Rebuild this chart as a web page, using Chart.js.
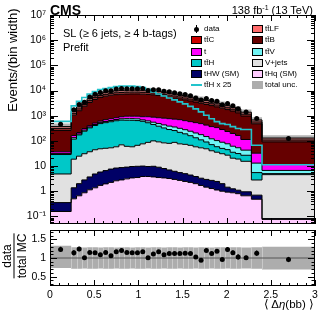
<!DOCTYPE html>
<html>
<head>
<meta charset="utf-8">
<script src="https://cdn.jsdelivr.net/npm/chart.js@4.4.1/dist/chart.umd.min.js"></script>
<style>
  body { margin: 0; background: #fff; }
  #wrap { position: relative; width: 332px; height: 325px; overflow: hidden;
          font-family: "Liberation Sans", Arial, Helvetica, sans-serif; color: #000; }
  canvas { position: absolute; left: 0; }
  .txt { position: absolute; white-space: nowrap; line-height: 1; }
  .lg { position: absolute; white-space: nowrap; line-height: 1; font-size: 8px; }
  .box { position: absolute; box-sizing: border-box; }
</style>
</head>
<body>
<div id="wrap">
  <canvas id="main" width="332" height="228" style="top:0"></canvas>
  <canvas id="ratio" width="332" height="99" style="top:226px"></canvas>

  <div class="txt" style="left:50px; top:3px; font-size:14px; font-weight:bold;">CMS</div>
  <div class="txt" style="right:19px; top:5px; font-size:11px;">138 fb<sup style="font-size:7px; line-height:0; vertical-align:4px;">-1</sup> (13 TeV)</div>
  <div class="txt" style="left:63px; top:28px; font-size:11px;">SL (≥ 6 jets, ≥ 4 b-tags)</div>
  <div class="txt" style="left:63px; top:42px; font-size:11px;">Prefit</div>
  <div class="txt" style="left:12px; top:60px; font-size:13px; transform:translate(-50%,-50%) rotate(-90deg);">Events/(bin width)</div>
  <div class="txt" style="left:14px; top:256px; font-size:12px; text-align:center; transform:translate(-50%,-50%) rotate(-90deg);">
    <div style="padding:0 0 1px 0; border-bottom:1px solid #000;">data</div>
    <div style="padding-top:1px;">total MC</div>
  </div>
  <div class="txt" style="right:18px; top:299px; font-size:11.5px;">⟨ Δ<i>η</i>(bb) ⟩</div>
  <div id="legend"></div>
</div>

<script>
// bin edges of <Δη(bb)>
const binEdges = [0, 0.24, 0.30, 0.36, 0.42, 0.48, 0.54, 0.60, 0.66, 0.72, 0.78, 0.84, 0.90,
  0.96, 1.02, 1.08, 1.14, 1.20, 1.26, 1.32, 1.38, 1.44, 1.50, 1.56, 1.62, 1.68, 1.74, 1.80,
  1.86, 1.92, 1.98, 2.04, 2.10, 2.16, 2.28, 2.40, 3.00];

// processes, events per bin width (stacked bottom -> top)
const tHq = [0.157, 0.50, 0.66, 0.87, 1.14, 1.37, 1.71, 1.96, 2.25, 2.6, 2.82, 3.1, 3.38, 3.5,
  3.85, 3.85, 3.7, 3.5, 3.38, 3.2, 2.95, 2.7, 2.45, 2.25, 2.0, 1.7, 1.45, 1.28, 1.12, 1.0,
  0.92, 0.87, 0.8, 0.66, 0.48, 0.076];
const tHW = [0.197, 0.87, 1.34, 1.95, 2.56, 3.48, 4.09, 4.64, 5.35, 5.75, 5.88, 6.0, 6.22, 6.3,
  6.15, 5.75, 6.1, 5.5, 4.62, 3.8, 3.25, 2.8, 2.55, 2.15, 1.85, 1.6, 1.5, 1.42, 1.33, 1.0,
  0.53, 0.38, 0.3, 0.29, 0.22, 0.006];
const vJets = [4.5, 17.4, 22.7, 28.1, 33.3, 39.6, 42.8, 44.2, 45.5, 49.9, 61, 51.7, 48.6, 56.9,
  66.3, 77.7, 90.2, 82.4, 75.5, 72.8, 81.1, 70.8, 67.9, 62.3, 54.3, 49.7, 45.6, 37.8, 33, 28.9,
  25.6, 19.3, 17.9, 14.5, 2.1, 4.48];
const ttH = [23.9, 98.6, 148, 212, 292, 365, 438, 479, 524, 574, 600, 600, 600, 574, 524, 438,
  349, 292, 243, 203, 170, 142, 118, 94, 75, 57, 42, 30.5, 23.3, 19.4, 17.8, 14.8, 12.4, 11.4,
  2.7, 0.45];
const ttV = [3, 17, 16, 25, 29, 37, 45, 60, 68, 74, 87, 106, 106, 112, 82, 97, 103, 104, 106,
  103, 99, 97, 88, 81, 73, 67, 58, 50, 44, 38, 32, 26, 22, 16, 7.6, 1.7];
const singleTop = [5.2, 30, 26, 41, 47, 62, 76, 107, 118, 128, 157, 188, 191, 202, 232, 292, 321,
  347, 365, 377, 373, 382, 358, 340, 325, 309, 275, 249, 235, 194, 159, 136, 111, 71, 19.3, 4.8];
const ttB = [223, 886, 1360, 2071, 2955, 3902, 4712, 5253, 5747, 6026, 6156, 6255, 6325, 6325,
  6226, 6086, 5847, 5536, 5152, 4767, 4381, 3993, 3633, 3268, 2934, 2629, 2376, 2150, 1902,
  1713, 1514, 1329, 1131, 852, 444, 79.5];
const ttC = [48, 195, 293, 442, 624, 819, 988, 1105, 1209, 1274, 1313, 1339, 1352, 1352, 1326,
  1300, 1248, 1183, 1105, 1027, 949, 871, 793, 715, 644, 579, 520, 468, 416, 371, 325, 283,
  241, 179, 88, 17];
const ttLF = [63, 255, 383, 578, 816, 1071, 1292, 1445, 1581, 1666, 1717, 1751, 1768, 1768,
  1734, 1700, 1632, 1547, 1445, 1343, 1241, 1139, 1037, 935, 842, 757, 680, 612, 544, 485,
  425, 371, 315, 235, 116, 22];

// observed data and data/MC
const dataObs = [456, 1710, 2790, 3434, 5520, 7182, 8284, 9775, 9858, 11466, 12120, 11845,
  11856, 11856, 11934, 10100, 10656, 10647, 9265, 8848, 8176, 7504, 6893, 6160, 5099, 4183,
  4800, 4032, 3776, 2736, 3075, 2485, 1906, 1394, 768, 125];
const ratioObs = [1.23, 1.14, 1.24, 1.01, 1.15, 1.14, 1.09, 1.15, 1.06, 1.17, 1.20, 1.15, 1.14,
  1.14, 1.17, 1.01, 1.11, 1.17, 1.09, 1.12, 1.12, 1.12, 1.13, 1.12, 1.03, 0.94, 1.20, 1.12,
  1.18, 0.96, 1.23, 1.14, 1.03, 1.01, 1.13, 0.96];
const ratioErr = [0.07, 0.07, 0.06, 0.04, 0.03, 0.03, 0.03, 0.03, 0.03, 0.03, 0.03, 0.03, 0.03,
  0.03, 0.03, 0.03, 0.03, 0.03, 0.03, 0.03, 0.03, 0.03, 0.03, 0.03, 0.03, 0.03, 0.04, 0.04,
  0.04, 0.04, 0.06, 0.06, 0.07, 0.05, 0.07, 0.07];

// total uncertainty (relative, upper / lower edge)
const uncHi = [1.33, 1.29, 1.29, 1.28, 1.29, 1.29, 1.28, 1.29, 1.29, 1.28, 1.29, 1.29, 1.28,
  1.29, 1.29, 1.28, 1.29, 1.29, 1.28, 1.29, 1.29, 1.28, 1.29, 1.29, 1.28, 1.29, 1.29, 1.28,
  1.29, 1.29, 1.28, 1.29, 1.29, 1.28, 1.29, 1.30];
const uncLo = [0.73, 0.71, 0.71, 0.72, 0.71, 0.71, 0.72, 0.71, 0.71, 0.72, 0.71, 0.71, 0.72,
  0.71, 0.71, 0.72, 0.71, 0.71, 0.72, 0.71, 0.71, 0.72, 0.71, 0.71, 0.72, 0.71, 0.71, 0.72,
  0.71, 0.71, 0.72, 0.71, 0.71, 0.72, 0.71, 0.69];

const ttHScale = 25;
const yTickExp = [-1, 0, 1, 2, 3, 4, 5, 6, 7];
const xTicks = [0, 0.5, 1, 1.5, 2, 2.5, 3];
const ratioTicks = [0.5, 1, 1.5];

const FONT = '"Liberation Sans", Arial, Helvetica, sans-serif';
Chart.defaults.font.family = FONT;
Chart.defaults.color = '#000';

const colors = {
  ttLF: '#ff6b6b', ttC: '#cc0000', ttB: '#660000', t: '#ff00ff', ttV: '#70f5f5',
  ttH: '#00c8c8', vJets: '#e1e1e1', tHW: '#000066', tHq: '#ffccff',
  ttHline: '#22c4cc', unc: '#adadad'
};

// stack, bottom first
const stack = [
  { vals: tHq, color: colors.tHq },
  { vals: tHW, color: colors.tHW },
  { vals: vJets, color: colors.vJets },
  { vals: ttH, color: colors.ttH },
  { vals: ttV, color: colors.ttV },
  { vals: singleTop, color: colors.t },
  { vals: ttB, color: colors.ttB },
  { vals: ttC, color: colors.ttC },
  { vals: ttLF, color: colors.ttLF }
];

const nBins = binEdges.length - 1;
const binCenters = [];
for (let i = 0; i < nBins; i++) binCenters.push((binEdges[i] + binEdges[i + 1]) / 2);

// histogram as stepped line: one point per lower edge, plus the last upper edge
function stepPoints(vals) {
  const pts = vals.map((v, i) => ({ x: binEdges[i], y: v }));
  pts.push({ x: binEdges[nBins], y: vals[nBins - 1] });
  return pts;
}

let running = new Array(nBins).fill(0);
const mainSets = [];
stack.forEach((s, k) => {
  running = running.map((r, i) => r + s.vals[i]);
  mainSets.push({
    data: stepPoints(running),
    stepped: true,
    borderColor: '#000',
    borderWidth: 1,
    backgroundColor: s.color,
    fill: k === 0 ? 'start' : '-1',
    pointRadius: 0,
    order: 5
  });
});
const totalMC = running;

// total unc. band around the stack
mainSets.push({
  data: stepPoints(totalMC.map((v, i) => v * uncLo[i])),
  stepped: true, borderWidth: 0, borderColor: 'rgba(0,0,0,0)', fill: false, pointRadius: 0, order: 3
});
mainSets.push({
  data: stepPoints(totalMC.map((v, i) => v * uncHi[i])),
  stepped: true, borderWidth: 0, borderColor: 'rgba(0,0,0,0)', backgroundColor: 'rgba(105,105,105,0.5)',
  fill: '-1', pointRadius: 0, order: 3
});
// ttH x 25
mainSets.push({
  data: stepPoints(ttH.map(v => v * ttHScale)),
  stepped: true, borderColor: colors.ttHline, borderWidth: 1.6, fill: false, pointRadius: 0, order: 1
});
// data
mainSets.push({
  data: dataObs.map((v, i) => ({ x: binCenters[i], y: v })),
  showLine: false, pointRadius: 2.5, pointBackgroundColor: '#000', pointBorderWidth: 0, order: 0
});

const supMap = { '-': '⁻', '0': '⁰', '1': '¹', '2': '²', '3': '³', '4': '⁴', '5': '⁵', '6': '⁶', '7': '⁷', '8': '⁸', '9': '⁹' };
function expLabel(v) {
  const e = Math.round(Math.log10(v));
  if (e === 0) return '1';
  if (e === 1) return '10';
  return '10' + String(e).split('').map(c => supMap[c]).join('');
}

// minor/major ticks pointing inwards on all four sides, plus the frame
const frameTicks = {
  id: 'frameTicks',
  afterDatasetsDraw(chart, args, opts) {
    const { ctx, chartArea: a, scales } = chart;
    ctx.save();
    ctx.strokeStyle = '#000';
    ctx.lineWidth = 1;
    const seg = (x1, y1, x2, y2) => { ctx.beginPath(); ctx.moveTo(x1, y1); ctx.lineTo(x2, y2); ctx.stroke(); };
    const drawX = (vals, len) => vals.forEach(v => {
      const px = Math.round(scales.x.getPixelForValue(v)) + 0.5;
      seg(px, a.bottom, px, a.bottom - len);
      seg(px, a.top, px, a.top + len);
    });
    const drawY = (vals, len) => vals.forEach(v => {
      const py = Math.round(scales.y.getPixelForValue(v)) + 0.5;
      if (py < a.top || py > a.bottom) return;
      seg(a.left, py, a.left + len, py);
      seg(a.right, py, a.right - len, py);
    });
    drawX(opts.xMinor, opts.xMinorLen);
    drawX(opts.xMajor, opts.xMajorLen);
    drawY(opts.yMinor, opts.yMinorLen);
    drawY(opts.yMajor, opts.yMajorLen);
    ctx.strokeRect(Math.round(a.left) + 0.5, Math.round(a.top) + 0.5,
      Math.round(a.right - a.left) - 1, Math.round(a.bottom - a.top) - 1);
    ctx.restore();
  }
};

// ratio panel: faint bin seams in the unc. band, then error bars of the points
const ratioExtras = {
  id: 'ratioExtras',
  beforeDatasetDraw(chart, args) {
    if (args.index !== 2) return;
    const { ctx, scales } = chart;
    ctx.save();
    ctx.strokeStyle = 'rgba(255,255,255,0.35)';
    ctx.lineWidth = 1;
    for (let i = 1; i < nBins; i++) {
      const px = Math.round(scales.x.getPixelForValue(binEdges[i])) + 0.5;
      ctx.beginPath();
      ctx.moveTo(px, scales.y.getPixelForValue(Math.min(uncHi[i - 1], uncHi[i])));
      ctx.lineTo(px, scales.y.getPixelForValue(Math.max(uncLo[i - 1], uncLo[i])));
      ctx.stroke();
    }
    ctx.restore();
  },
  afterDatasetsDraw(chart) {
    const { ctx, scales } = chart;
    ctx.save();
    ctx.strokeStyle = '#000';
    ctx.lineWidth = 1.2;
    binCenters.forEach((c, i) => {
      const px = scales.x.getPixelForValue(c);
      ctx.beginPath();
      ctx.moveTo(px, scales.y.getPixelForValue(ratioObs[i] - ratioErr[i]));
      ctx.lineTo(px, scales.y.getPixelForValue(ratioObs[i] + ratioErr[i]));
      ctx.stroke();
    });
    ctx.restore();
  }
};

const xMinorVals = [];
for (let k = 0; k <= 30; k++) if (k % 5 !== 0) xMinorVals.push(k / 10);
const yMinorMain = [];
for (let e = -2; e <= 6; e++) for (let m = 2; m <= 9; m++) {
  const v = m * Math.pow(10, e);
  if (v >= 0.05 && v <= 1e7) yMinorMain.push(v);
}
const yMinorRatio = [];
for (let k = 3; k <= 17; k++) if (k % 5 !== 0) yMinorRatio.push(k / 10);

new Chart(document.getElementById('main'), {
  type: 'line',
  data: { datasets: mainSets },
  options: {
    responsive: false, animation: false, devicePixelRatio: 1, events: [],
    layout: { padding: { left: 0, right: 17, top: 15, bottom: 1 } },
    scales: {
      x: { type: 'linear', min: 0, max: 3, display: false },
      y: {
        type: 'logarithmic', min: 0.05, max: 1e7,
        grid: { display: false, drawTicks: false }, border: { display: false },
        ticks: { padding: 4, font: { size: 10.5 }, color: '#000', autoSkip: false, maxRotation: 0,
                 callback: v => expLabel(v) },
        afterBuildTicks: s => { s.ticks = yTickExp.map(e => ({ value: Math.pow(10, e) })); },
        afterFit: s => { s.width = 50; s.paddingTop = 0; s.paddingBottom = 0; }
      }
    },
    plugins: {
      legend: { display: false }, tooltip: { enabled: false },
      filler: { propagate: false, drawTime: 'beforeDatasetsDraw' },
      frameTicks: { xMajor: xTicks, xMinor: xMinorVals, yMajor: yTickExp.map(e => Math.pow(10, e)),
                    yMinor: yMinorMain, xMajorLen: 6, xMinorLen: 3, yMajorLen: 8, yMinorLen: 4 }
    }
  },
  plugins: [frameTicks]
});

new Chart(document.getElementById('ratio'), {
  type: 'line',
  data: {
    datasets: [
      { data: stepPoints(uncLo), stepped: true, borderWidth: 0, borderColor: 'rgba(0,0,0,0)', fill: false, pointRadius: 0, order: 3 },
      { data: stepPoints(uncHi), stepped: true, borderWidth: 0, borderColor: 'rgba(0,0,0,0)', backgroundColor: colors.unc, fill: '-1', pointRadius: 0, order: 3 },
      { data: [{ x: 0, y: 1 }, { x: 3, y: 1 }], borderColor: '#555', borderWidth: 1, fill: false, pointRadius: 0, order: 2 },
      { data: ratioObs.map((v, i) => ({ x: binCenters[i], y: v })), showLine: false, pointRadius: 2.5,
        pointBackgroundColor: '#000', pointBorderWidth: 0, order: 0 }
    ]
  },
  options: {
    responsive: false, animation: false, devicePixelRatio: 1, events: [],
    layout: { padding: { left: 0, right: 17, top: 1, bottom: 0 } },
    scales: {
      x: {
        type: 'linear', min: 0, max: 3,
        grid: { display: false, drawTicks: false }, border: { display: false },
        ticks: { padding: 3, font: { size: 10.5 }, color: '#000', autoSkip: false, maxRotation: 0,
                 callback: v => String(v) },
        afterBuildTicks: s => { s.ticks = xTicks.map(v => ({ value: v })); },
        afterFit: s => { s.height = 39; s.paddingLeft = 0; s.paddingRight = 0; }
      },
      y: {
        type: 'linear', min: 0.25, max: 1.75,
        grid: { display: false, drawTicks: false }, border: { display: false },
        ticks: { padding: 4, font: { size: 10.5 }, color: '#000', autoSkip: false, maxRotation: 0,
                 callback: v => String(v) },
        afterBuildTicks: s => { s.ticks = ratioTicks.map(v => ({ value: v })); },
        afterFit: s => { s.width = 50; s.paddingTop = 0; s.paddingBottom = 0; }
      }
    },
    plugins: {
      legend: { display: false }, tooltip: { enabled: false },
      filler: { propagate: false, drawTime: 'beforeDatasetsDraw' },
      frameTicks: { xMajor: xTicks, xMinor: xMinorVals, yMajor: ratioTicks, yMinor: yMinorRatio,
                    xMajorLen: 6, xMinorLen: 3, yMajorLen: 7, yMinorLen: 3.5 }
    }
  },
  plugins: [frameTicks, ratioExtras]
});

// legend, two columns
const legendItems = [
  { col: 0, row: 0, kind: 'point', label: 'data' },
  { col: 0, row: 1, kind: 'box', color: colors.ttC, label: 'tt\u0304C' },
  { col: 0, row: 2, kind: 'box', color: colors.t, label: 't' },
  { col: 0, row: 3, kind: 'box', color: colors.ttH, label: 'tt\u0304H' },
  { col: 0, row: 4, kind: 'box', color: colors.tHW, label: 'tHW (SM)' },
  { col: 0, row: 5, kind: 'line', color: colors.ttHline, label: 'tt\u0304H x 25' },
  { col: 1, row: 0, kind: 'box', color: colors.ttLF, label: 'tt\u0304LF' },
  { col: 1, row: 1, kind: 'box', color: colors.ttB, label: 'tt\u0304B' },
  { col: 1, row: 2, kind: 'box', color: colors.ttV, label: 'tt\u0304V' },
  { col: 1, row: 3, kind: 'box', color: colors.vJets, label: 'V+jets' },
  { col: 1, row: 4, kind: 'box', color: colors.tHq, label: 'tHq (SM)' },
  { col: 1, row: 5, kind: 'unc', color: colors.unc, label: 'total unc.' }
];
const legendEl = document.getElementById('legend');
legendItems.forEach(it => {
  const x0 = it.col === 0 ? 191 : 252;
  const yc = 29.3 + 11.1 * it.row;
  let html = '';
  if (it.kind === 'box') {
    html += `<div class="box" style="left:${x0}px;top:${yc - 4}px;width:11px;height:8px;background:${it.color};border:1px solid #000;"></div>`;
  } else if (it.kind === 'unc') {
    html += `<div class="box" style="left:${x0}px;top:${yc - 4}px;width:11px;height:8px;background:${it.color};"></div>`;
  } else if (it.kind === 'line') {
    html += `<div class="box" style="left:${x0}px;top:${yc - 1}px;width:11px;height:2px;background:${it.color};"></div>`;
  } else {
    html += `<div class="box" style="left:${x0 + 5}px;top:${yc - 4}px;width:1px;height:8px;background:#000;"></div>`;
    html += `<div class="box" style="left:${x0 + 3}px;top:${yc - 2.5}px;width:5px;height:5px;border-radius:50%;background:#000;"></div>`;
  }
  html += `<div class="lg" style="left:${x0 + 13}px;top:${yc - 4}px;">${it.label}</div>`;
  legendEl.insertAdjacentHTML('beforeend', html);
});
</script>
</body>
</html>
